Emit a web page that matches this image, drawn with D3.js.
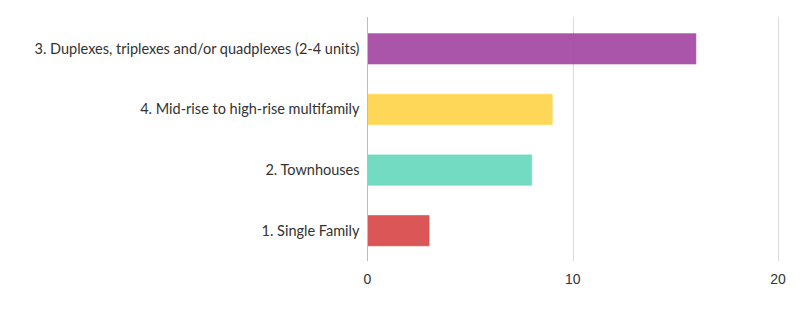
<!DOCTYPE html>
<html>
<head>
  <meta charset="utf-8">
  <script src="https://d3js.org/d3.v7.min.js"></script>
  <style>
    body { margin: 0; background: #fff; }
  </style>
</head>
<body>
  <svg id="chart" width="806" height="309"></svg>

  <script>
    // categories top to bottom, with their counts
    const categories = [
      "3. Duplexes, triplexes and/or quadplexes (2-4 units)",
      "4. Mid-rise to high-rise multifamily",
      "2. Townhouses",
      "1. Single Family"
    ];
    const values = [16, 9, 8, 3];
    const colors = ["#a54ca4", "#ffd54f", "#6dd9c0", "#d94d4d"];
    const xTicks = [0, 10, 20];

    const svg = d3.select("#chart");
    const margin = { left: 367.5, right: 28, top: 18.5, bottom: 48 };
    const width = 806, height = 309;

    const x = d3.scaleLinear().domain([0, 20]).range([margin.left, width - margin.right]);
    const y = d3.scaleBand().domain(categories)
      .range([margin.top, height - margin.bottom])
      .paddingInner(0.5).paddingOuter(0.25);

    // gridlines
    svg.append("g")
      .selectAll("line")
      .data(xTicks.slice(1))
      .join("line")
      .attr("x1", d => Math.round(x(d)) + 0.5)
      .attr("x2", d => Math.round(x(d)) + 0.5)
      .attr("y1", 17)
      .attr("y2", height - margin.bottom)
      .attr("stroke", "#d9d9d9");

    // bars
    svg.append("g")
      .selectAll("rect")
      .data(categories)
      .join("rect")
      .attr("x", x(0))
      .attr("y", d => y(d))
      .attr("width", (d, i) => x(values[i]) - x(0))
      .attr("height", y.bandwidth())
      .attr("fill", (d, i) => colors[i])
      .attr("fill-opacity", 0.95)
      .attr("stroke", (d, i) => colors[i])
      .attr("stroke-opacity", 0.6);

    // zero axis line
    svg.append("line")
      .attr("x1", x(0)).attr("x2", x(0))
      .attr("y1", 17).attr("y2", height - margin.bottom)
      .attr("stroke", "#bdbdbd");

    // category labels
    svg.append("g")
      .selectAll("text")
      .data(categories)
      .join("text")
      .attr("x", x(0) - 8)
      .attr("y", d => y(d) + y.bandwidth() / 2)
      .attr("dy", "0.34em")
      .attr("text-anchor", "end")
      .style("font-family", "Lato, sans-serif")
      .style("font-size", "14.5px")
      .style("fill", "#323232")
      .text(d => d);

    // x tick labels
    svg.append("g")
      .selectAll("text")
      .data(xTicks)
      .join("text")
      .attr("x", d => x(d))
      .attr("y", 284)
      .attr("text-anchor", "middle")
      .style("font-family", "'Liberation Sans', Arial, sans-serif")
      .style("font-size", "14px")
      .style("fill", "#333")
      .text(d => d);
  </script>
</body>
</html>
